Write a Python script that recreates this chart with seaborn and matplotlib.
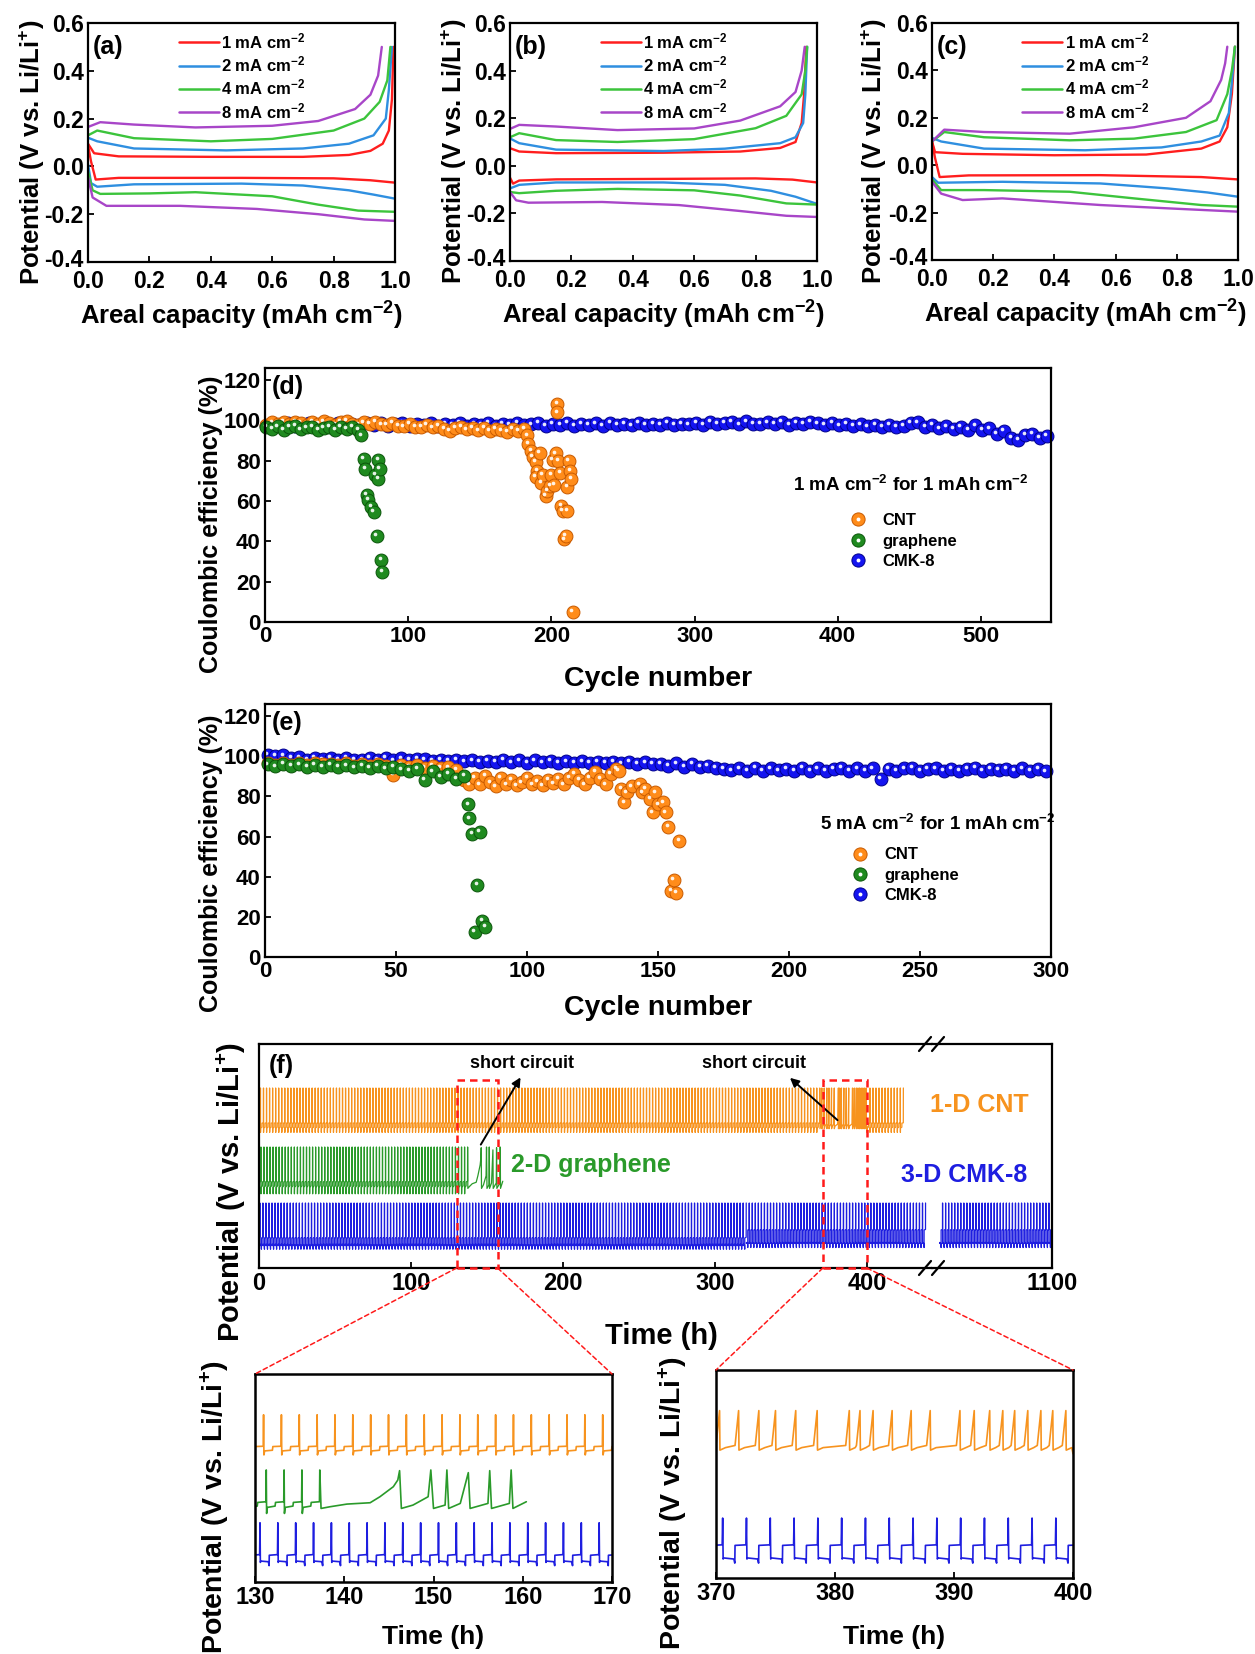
import numpy as np
import pandas as pd
import seaborn as sns
import matplotlib.pyplot as plt
from matplotlib.lines import Line2D
from matplotlib.patches import Rectangle, ConnectionPatch
from matplotlib.legend_handler import HandlerTuple
from matplotlib import transforms

# ---------------- (a)-(c) voltage profiles: capacity (mAh cm-2), potential (V) ----------------
CURRENTS = ["1", "2", "4", "8"]
CURRENT_COLORS = ["#ff1e1e", "#2f8fe0", "#3cc43c", "#a846c8"]

A_CHARGE = {
    "1": ([0.00, 0.02, 0.10, 0.40, 0.70, 0.85, 0.92, 0.96, 0.98, 0.99, 0.995],
          [0.095, 0.055, 0.042, 0.040, 0.040, 0.048, 0.065, 0.095, 0.15, 0.28, 0.50]),
    "2": ([0.00, 0.03, 0.15, 0.45, 0.70, 0.85, 0.93, 0.97, 0.98, 0.99],
          [0.12, 0.105, 0.075, 0.067, 0.075, 0.095, 0.13, 0.20, 0.32, 0.50]),
    "4": ([0.00, 0.03, 0.15, 0.40, 0.60, 0.80, 0.90, 0.95, 0.975, 0.985],
          [0.13, 0.15, 0.118, 0.105, 0.115, 0.15, 0.20, 0.27, 0.36, 0.50]),
    "8": ([0.00, 0.04, 0.15, 0.35, 0.60, 0.75, 0.87, 0.92, 0.945, 0.957],
          [0.165, 0.185, 0.175, 0.163, 0.17, 0.19, 0.24, 0.30, 0.38, 0.50]),
}
A_DISCHARGE = {
    "1": ([0.00, 0.01, 0.025, 0.10, 0.50, 0.80, 0.92, 1.00],
          [0.09, 0.02, -0.055, -0.048, -0.048, -0.05, -0.058, -0.068]),
    "2": ([0.00, 0.01, 0.03, 0.15, 0.50, 0.70, 0.85, 0.93, 1.00],
          [0.01, -0.07, -0.085, -0.075, -0.072, -0.08, -0.10, -0.118, -0.135]),
    "4": ([0.00, 0.015, 0.04, 0.20, 0.35, 0.60, 0.75, 0.88, 1.00],
          [-0.02, -0.10, -0.115, -0.113, -0.108, -0.125, -0.16, -0.185, -0.19]),
    "8": ([0.00, 0.015, 0.06, 0.30, 0.55, 0.75, 0.90, 1.00],
          [-0.045, -0.13, -0.165, -0.165, -0.178, -0.20, -0.222, -0.228]),
}
B_CHARGE = {
    "1": ([0.00, 0.03, 0.15, 0.50, 0.75, 0.88, 0.93, 0.95, 0.958, 0.965],
          [0.074, 0.06, 0.053, 0.055, 0.06, 0.075, 0.10, 0.18, 0.30, 0.50]),
    "2": ([0.00, 0.03, 0.15, 0.50, 0.70, 0.88, 0.93, 0.955, 0.962, 0.968],
          [0.115, 0.095, 0.068, 0.062, 0.072, 0.095, 0.12, 0.18, 0.30, 0.50]),
    "4": ([0.00, 0.03, 0.15, 0.35, 0.60, 0.80, 0.90, 0.95, 0.962, 0.968],
          [0.12, 0.137, 0.108, 0.100, 0.112, 0.158, 0.21, 0.30, 0.40, 0.50]),
    "8": ([0.00, 0.03, 0.15, 0.35, 0.60, 0.75, 0.88, 0.93, 0.95, 0.96],
          [0.155, 0.172, 0.165, 0.150, 0.157, 0.19, 0.25, 0.31, 0.40, 0.50]),
}
B_DISCHARGE = {
    "1": ([0.00, 0.01, 0.03, 0.15, 0.50, 0.80, 0.92, 1.00],
          [-0.05, -0.075, -0.062, -0.057, -0.055, -0.053, -0.058, -0.07]),
    "2": ([0.00, 0.03, 0.15, 0.50, 0.70, 0.85, 0.93, 1.00],
          [-0.095, -0.08, -0.07, -0.07, -0.08, -0.105, -0.13, -0.16]),
    "4": ([0.00, 0.03, 0.15, 0.35, 0.60, 0.75, 0.90, 1.00],
          [-0.11, -0.115, -0.105, -0.097, -0.103, -0.125, -0.158, -0.163]),
    "8": ([0.00, 0.02, 0.06, 0.30, 0.55, 0.75, 0.90, 1.00],
          [-0.11, -0.145, -0.155, -0.152, -0.165, -0.19, -0.21, -0.215]),
}
C_CHARGE = {
    "1": ([0.00, 0.01, 0.10, 0.40, 0.70, 0.88, 0.94, 0.965, 0.98, 0.99],
          [0.10, 0.055, 0.048, 0.042, 0.045, 0.07, 0.10, 0.16, 0.30, 0.50]),
    "2": ([0.00, 0.03, 0.17, 0.50, 0.75, 0.88, 0.94, 0.97, 0.98, 0.99],
          [0.115, 0.10, 0.07, 0.063, 0.075, 0.10, 0.125, 0.22, 0.35, 0.50]),
    "4": ([0.00, 0.04, 0.17, 0.45, 0.66, 0.83, 0.93, 0.965, 0.98, 0.99],
          [0.10, 0.14, 0.118, 0.105, 0.112, 0.14, 0.19, 0.30, 0.40, 0.50]),
    "8": ([0.00, 0.04, 0.17, 0.45, 0.66, 0.83, 0.91, 0.945, 0.958, 0.965],
          [0.10, 0.15, 0.14, 0.133, 0.16, 0.20, 0.27, 0.36, 0.43, 0.50]),
}
C_DISCHARGE = {
    "1": ([0.00, 0.01, 0.025, 0.12, 0.55, 0.88, 1.00],
          [0.10, 0.03, -0.05, -0.043, -0.042, -0.05, -0.06]),
    "2": ([0.00, 0.02, 0.23, 0.55, 0.77, 0.90, 1.00],
          [-0.05, -0.074, -0.07, -0.077, -0.098, -0.115, -0.133]),
    "4": ([0.00, 0.03, 0.17, 0.45, 0.66, 0.88, 1.00],
          [-0.06, -0.105, -0.105, -0.112, -0.14, -0.168, -0.175]),
    "8": ([0.00, 0.03, 0.10, 0.23, 0.55, 0.77, 1.00],
          [-0.07, -0.12, -0.147, -0.14, -0.168, -0.182, -0.196]),
}

# ---------------- (d) CE at 1 mA cm-2 ----------------
D_CNT_CYCLE = np.arange(1, 182, 4)
D_CNT_CE = [97.8, 99.0, 98.4, 99.4, 98.0, 99.2, 98.6, 97.9, 99.3, 98.2, 99.5, 98.5, 97.9, 99.1,
            99.6, 98.3, 97.8, 99.0, 98.2, 99.3, 98.0, 97.6, 98.6, 97.4, 97.0, 98.2, 96.9, 96.6,
            97.8, 96.5, 97.2, 95.6, 94.8, 96.3, 96.9, 95.5, 96.2, 95.0, 96.1, 94.8, 95.7, 95.0,
            94.4, 95.8, 94.6, 95.9]
D_CNT_DROP_CYCLE = [183, 184, 186, 187, 189, 190, 189, 192, 193, 194, 196, 197, 199, 200, 201, 202,
                    203, 204, 204, 205, 206, 207, 208, 209, 210, 211, 211, 212, 213, 214, 215]
D_CNT_DROP_CE = [92.6, 88.5, 85, 82, 79.5, 75, 72, 84, 69, 73, 62.5, 65, 67.5, 73, 80.3, 68,
                 83.6, 108, 104, 80, 74, 57.6, 55, 41, 42.6, 67, 55, 80, 75, 71, 5]
D_GR_CYCLE = np.arange(1, 66, 4)
D_GR_CE = [96.8, 95.6, 97.0, 95.4, 96.6, 97.1, 95.5, 96.5, 96.9, 95.3, 96.3, 96.7, 95.4, 96.6,
           95.6, 96.8, 95.2]
D_GR_DROP_CYCLE = [67, 69, 70, 71, 72, 74, 76, 77, 78, 79, 79, 80, 81, 82]
D_GR_DROP_CE = [92.6, 81, 76, 63, 60.5, 57, 54.6, 73, 42.6, 80.3, 71, 76, 31, 25]
D_CMK_CYCLE = np.arange(1, 547, 5)
D_CMK_CE = [97.2, 98.4, 97.6, 98.8, 97.4, 98.1, 98.9, 97.3, 98.2, 97.8,
            98.6, 97.1, 98.3, 97.9, 98.7, 97.5, 98.5, 97.2, 98.0, 98.8,
            97.4, 98.3, 97.7, 98.9, 97.3, 98.1, 97.6, 98.6, 97.2, 98.4,
            97.9, 98.7, 97.3, 98.2, 97.6, 98.8, 97.5, 98.0, 98.6, 97.4,
            98.3, 97.7, 98.9, 97.2, 98.1, 97.8, 98.5, 97.4, 98.7, 97.9,
            98.2, 97.5, 98.6, 97.8, 98.3, 97.6, 98.9, 97.7, 98.4, 98.0,
            98.8, 97.9, 99.1, 98.2, 98.9, 99.3, 98.0, 99.5, 98.4, 98.1,
            99.0, 98.3, 99.2, 97.9, 98.8, 98.2, 99.1, 98.5, 97.8, 98.6,
            97.5, 98.3, 97.2, 98.0, 97.0, 97.8, 96.8, 97.6, 96.9, 97.4, 98.6, 99.0, 96.8, 97.6,
            96.0, 97.0, 95.6, 96.8, 95.4, 97.5, 95.2, 96.0,
            93.5, 94.6, 91.2, 90.5, 92.8, 93.4, 91.5, 92.4]

# ---------------- (e) CE at 5 mA cm-2 ----------------
E_CNT_CYCLE = np.arange(1, 76, 3)
E_CNT_CE = [96.6, 95.7, 96.8, 95.8, 96.4, 95.6, 96.5, 95.9, 96.2, 95.4, 96.4, 95.3, 96.1, 95.2,
            96.0, 95.1, 90.8, 95.6, 94.6, 95.4, 94.3, 95.0, 94.0, 94.4, 93.3]
E_CNT_DROP_CYCLE = [76, 78, 80, 82, 84, 86, 88, 90, 92, 94, 96, 98, 100, 102, 104, 106, 108, 110,
                    112, 114, 116, 118, 120, 122, 124, 126, 128, 130, 132, 134, 135, 136, 137, 138,
                    140, 143, 144, 145, 147, 148, 149, 150, 152, 153, 154, 155, 156, 157, 158]
E_CNT_DROP_CE = [88, 86, 89, 86, 90, 87, 85, 89, 86, 88, 85.5, 87, 89, 86, 87.5, 85.5, 88, 86.5,
                 88.5, 86, 89, 91, 88, 86, 89, 92, 88.5, 86, 91, 93.5, 92.5, 83.6, 77, 82,
                 85, 86, 82, 83.6, 78.7, 72, 82, 76, 77, 72, 64.6, 33, 38.5, 32, 58]
E_GR_CYCLE = np.arange(1, 76, 3)
E_GR_CE = [95.9, 94.9, 96.1, 95.0, 95.9, 94.8, 95.8, 94.7, 95.6, 94.5, 95.4, 94.4, 95.3, 94.2,
           95.1, 93.9, 94.7, 93.4, 92.6, 93.8, 88.2, 92.4, 89.8, 91.0, 88.6]
E_GR_DROP_CYCLE = [76, 77.5, 78, 79, 82, 81, 80, 83, 84]
E_GR_DROP_CE = [90, 76, 69, 61.5, 62.3, 36, 12.3, 18, 14.8]
E_CMK_CYCLE = np.arange(1, 299, 3)
E_CMK_CE = [100.8, 100.0, 100.4, 99.3,
            99.4, 98.2, 99.3, 98.4, 99.1, 98.0, 99.3, 98.3, 98.1, 99.2, 98.0, 99.0, 97.9, 98.9,
            98.1, 98.7,
            98.4, 97.6, 98.3, 97.5, 98.1, 97.4, 97.9, 97.2, 97.8, 97.1, 98.2, 96.9, 97.9, 96.8,
            97.9, 96.9, 97.6, 96.8, 97.4, 96.7, 97.4, 96.6, 97.3, 96.5, 97.2, 96.4, 97.1, 96.3,
            96.9, 96.0,
            96.3, 95.0, 96.4, 94.8, 96.1, 94.7, 95.3, 94.1,
            93.8, 92.9, 93.9, 92.8, 94.1, 92.7, 93.9, 92.9, 93.6, 92.8,
            94.0, 92.8, 93.9, 92.6, 93.8, 94.0, 92.5, 93.9, 92.8, 93.9,
            88.8, 93.8, 92.6, 93.9, 94.0, 92.7, 93.6, 93.9, 92.8, 93.6,
            92.8, 93.8, 94.0, 92.6, 93.8, 93.0, 93.7, 92.8, 93.9, 92.6,
            93.7, 92.4]

# ---------------- (f) galvanostatic cycling, one 2 h cycle shape (spike height = 1) ----------------
CNT_T = [0.00, 0.08, 0.95, 1.00, 1.92, 1.96]
CNT_V = [-0.20, -0.08, -0.06, 0.05, 0.06, 1.00]
CNT_SHORT_SPIKES = [370.3, 371.9, 373.6, 375.0, 376.7, 378.5, 381.2, 382.1, 383.2, 384.8, 386.4,
                    388.0, 390.5, 391.7, 393.0, 394.1, 395.1, 396.2, 397.3, 398.3, 399.4]
CNT_SHORT_LEVELS = [-0.10, -0.03, 0.03]
GR_T = [0.00, 0.08, 0.95, 1.00, 1.92, 1.96]
GR_V = [-0.30, -0.12, -0.08, 0.03, 0.05, 1.00]
GR_SOFT_T = [137.4, 138.4, 140.3, 142.9, 144.0, 145.5, 146.0, 146.2, 146.4, 147.7, 149.4, 149.7,
             150.0, 151.3, 151.5, 151.7, 153.0, 153.9, 154.1, 156.1, 156.3, 156.5, 158.5, 158.7,
             158.9, 160.4]
GR_SOFT_V = [-0.15, -0.10, -0.02, 0.02, 0.20, 0.50, 0.70, 0.98, -0.15, -0.05, 0.20, 1.00,
             -0.15, -0.05, 1.00, -0.15, 0.00, 0.92, -0.15, 0.00, 0.98, -0.15, 0.00, 1.00,
             -0.15, 0.05]
CMK_T = [0.00, 0.05, 0.90, 0.98, 1.00, 1.92, 1.96]
CMK_V_EARLY = [-0.22, -0.18, -0.20, -0.32, 0.00, 0.02, 1.00]
CMK_V_LATE = [-0.50, -0.46, -0.50, -0.65, 0.00, 0.02, 1.00]
# trace level / spike height in each plot (arbitrary offset units)
F_MAIN = {"CNT": (143, 37), "GR": (85, 36), "CMK_early": (30, 35), "CMK_late": (38, 27)}
F_INSET1 = {"CNT": (400, 100), "GR": (235, 100), "CMK_early": (80, 97)}
F_INSET2 = {"CNT": (395, 108), "CMK_late": (98, 82)}

C_ORANGE, C_GREEN, C_BLUE = "#f7931e", "#2a9a2a", "#1e1ee0"
B_ORANGE, B_GREEN, B_BLUE = "#ff8c1a", "#1f8a1f", "#1414f0"
E_ORANGE, E_GREEN, E_BLUE = "#c85a00", "#0a560a", "#00008c"

# ---------------- style ----------------
sns.set_theme(style="ticks")
plt.rcParams["font.family"] = ["Liberation Sans", "DejaVu Sans"]
plt.rcParams.update({
    "font.weight": "bold", "axes.labelweight": "bold", "mathtext.default": "regular",
    "axes.unicode_minus": False, "axes.edgecolor": "black", "xtick.color": "black",
    "ytick.color": "black", "text.color": "black", "axes.labelcolor": "black",
})

W, H = 1255, 1654
fig = plt.figure(figsize=(W / 100, H / 100), dpi=100)


def px_axes(left, top, right, bottom):
    return fig.add_axes([left / W, 1 - bottom / H, (right - left) / W, (bottom - top) / H])


def frame(ax, lw=1.6, size=14):
    for s in ax.spines.values():
        s.set_linewidth(lw)
        s.set_color("black")
    ax.tick_params(direction="in", length=4, width=1.3, labelsize=size, pad=3)


# ---------------- (a)-(c) ----------------
def profile_panel(ax, charge, discharge, tag, ylab_x):
    rows = []
    for cur in CURRENTS:
        for branch, src in (("charge", charge), ("discharge", discharge)):
            xs, ys = src[cur]
            rows += [(x, y, cur, branch) for x, y in zip(xs, ys)]
    df = pd.DataFrame(rows, columns=["cap", "pot", "current", "branch"])
    sns.lineplot(data=df, x="cap", y="pot", hue="current", hue_order=CURRENTS, units="branch",
                 estimator=None, sort=False, palette=CURRENT_COLORS, lw=1.7, legend=False, ax=ax)
    ax.set_xlim(0, 1.0)
    ax.set_ylim(-0.4, 0.6)
    ax.set_xticks(np.arange(0, 1.01, 0.2))
    ax.set_yticks(np.arange(-0.4, 0.61, 0.2))
    ax.xaxis.set_major_formatter(plt.FormatStrFormatter("%.1f"))
    ax.yaxis.set_major_formatter(plt.FormatStrFormatter("%.1f"))
    frame(ax, size=16.5)
    ax.tick_params(axis="x", pad=6)
    # lift the lowest y label a little so it clears the "0.0" under the corner
    lowest = ax.get_yticklabels()[0]
    lowest.set_transform(lowest.get_transform()
                         + transforms.ScaledTranslation(0, 3 / 72, fig.dpi_scale_trans))
    ax.set_xlabel("Areal capacity (mAh cm$^{-2}$)", fontsize=18.5)
    ax.set_ylabel("Potential (V vs. Li/Li$^{+}$)", fontsize=18.5)
    ax.xaxis.set_label_coords(0.5, -0.16)
    ax.yaxis.set_label_coords(ylab_x, 0.46)
    ax.text(0.016, 0.90, tag, transform=ax.transAxes, fontsize=18, va="center")
    handles = [Line2D([], [], color=c, lw=1.8) for c in CURRENT_COLORS]
    labels = [f"{c} mA cm$^{{-2}}$" for c in CURRENTS]
    ax.legend(handles, labels, loc="upper left", bbox_to_anchor=(0.268, 1.0), frameon=False,
              borderpad=0, handlelength=2.4, handletextpad=0.15, labelspacing=0.2, fontsize=12)


profile_panel(px_axes(88, 23, 395, 262), A_CHARGE, A_DISCHARGE, "(a)", -0.135)
profile_panel(px_axes(510, 23, 817, 261), B_CHARGE, B_DISCHARGE, "(b)", -0.135)
profile_panel(px_axes(932, 23, 1238, 260), C_CHARGE, C_DISCHARGE, "(c)", -0.142)


# ---------------- (d) and (e) ----------------
def balls(ax, x, y, color, edge):
    sns.scatterplot(x=np.asarray(x, float), y=np.asarray(y, float), s=86, color=color,
                    edgecolor=edge, linewidth=0.7, legend=False, ax=ax, clip_on=False)
    shine = transforms.offset_copy(ax.transData, fig=fig, x=-1.0, y=1.3, units="points")
    ax.scatter(x, y, s=7, color="white", alpha=0.9, linewidths=0, transform=shine, clip_on=False)


def ball_handle(color, edge):
    return (Line2D([], [], ls="", marker="o", ms=9.5, mfc=color, mec=edge, mew=0.7),
            Line2D([], [], ls="", marker="o", ms=2.8, mfc="white", mec="none"))


def ce_panel(ax, tag, xmax, xstep, title, title_xy, leg_xy, xlab_y, ylab_y):
    ax.set_xlim(0, xmax)
    ax.set_ylim(0, 126)
    ax.set_xticks(np.arange(0, xmax + 1, xstep))
    ax.set_yticks(np.arange(0, 121, 20))
    frame(ax, size=16)
    ax.set_xlabel("Cycle number", fontsize=20.5)
    ax.set_ylabel("Coulombic efficiency (%)", fontsize=18)
    ax.xaxis.set_label_coords(0.5, xlab_y)
    ax.yaxis.set_label_coords(-0.053, ylab_y)
    ax.text(0.009, 0.925, tag, transform=ax.transAxes, fontsize=18, va="center")
    fig.text(title_xy[0] / W, 1 - title_xy[1] / H, title, fontsize=13.5, va="center")
    handles = [ball_handle(B_ORANGE, E_ORANGE), ball_handle(B_GREEN, E_GREEN),
               ball_handle(B_BLUE, E_BLUE)]
    ax.legend(handles, ["CNT", "graphene", "CMK-8"], handler_map={tuple: HandlerTuple(ndivide=1)},
              loc="upper left", bbox_to_anchor=(leg_xy[0] / W, 1 - leg_xy[1] / H),
              bbox_transform=fig.transFigure, frameon=False, borderpad=0, handlelength=1.0,
              handletextpad=1.0, labelspacing=0.32, fontsize=12)


ax_d = px_axes(265, 368, 1051, 622)
balls(ax_d, D_CMK_CYCLE, D_CMK_CE, B_BLUE, E_BLUE)
balls(ax_d, np.r_[D_CNT_CYCLE, D_CNT_DROP_CYCLE], np.r_[D_CNT_CE, D_CNT_DROP_CE], B_ORANGE, E_ORANGE)
balls(ax_d, np.r_[D_GR_CYCLE, D_GR_DROP_CYCLE], np.r_[D_GR_CE, D_GR_DROP_CE], B_GREEN, E_GREEN)
ce_panel(ax_d, "(d)", 549, 100, "1 mA cm$^{-2}$ for 1 mAh cm$^{-2}$", (793, 485), (841, 505),
         -0.175, 0.386)

ax_e = px_axes(265, 704, 1051, 957)
balls(ax_e, E_CMK_CYCLE, E_CMK_CE, B_BLUE, E_BLUE)
balls(ax_e, np.r_[E_CNT_CYCLE, E_CNT_DROP_CYCLE], np.r_[E_CNT_CE, E_CNT_DROP_CE], B_ORANGE, E_ORANGE)
balls(ax_e, np.r_[E_GR_CYCLE, E_GR_DROP_CYCLE], np.r_[E_GR_CE, E_GR_DROP_CE], B_GREEN, E_GREEN)
ce_panel(ax_e, "(e)", 300, 50, "5 mA cm$^{-2}$ for 1 mAh cm$^{-2}$", (820, 824), (843, 839),
         -0.15, 0.37)


# ---------------- (f) ----------------
def tile(starts, tmpl_t, tmpl_v):
    starts = np.asarray(starts, float)
    t = (starts[:, None] + np.asarray(tmpl_t)[None, :]).ravel()
    return t, np.tile(np.asarray(tmpl_v, float), len(starts))


def short_trace(spikes, levels):
    dip, mid, pre = levels
    t = [spikes[0] - 1.2, spikes[0] - 0.3]
    v = [dip, pre]
    for a, b in zip(spikes[:-1], spikes[1:]):
        t += [a, a + 0.03, a + 0.5, b - 0.3]
        v += [1.0, dip, mid, pre]
    t += [spikes[-1], spikes[-1] + 0.03, spikes[-1] + 0.5]
    v += [1.0, dip, mid]
    return np.array(t), np.array(v)


parts = [tile(np.arange(-1, 368, 2), CNT_T, CNT_V), short_trace(CNT_SHORT_SPIKES, CNT_SHORT_LEVELS),
         tile(np.arange(400, 423, 2), CNT_T, CNT_V)]
cnt_t = np.concatenate([p[0] for p in parts])
cnt_v = np.concatenate([p[1] for p in parts])
gr_reg = tile(np.arange(-0.7, 136, 2), GR_T, GR_V)
gr_t = np.r_[gr_reg[0], GR_SOFT_T]
gr_v = np.r_[gr_reg[1], GR_SOFT_V]
cmk_early_t, cmk_early_v = tile(np.arange(-1.4, 320, 2), CMK_T, CMK_V_EARLY)
cmk_late_t, cmk_late_v = tile(np.arange(320.6, 437, 2), CMK_T, CMK_V_LATE)
cmk_right_t, cmk_right_v = tile(np.arange(1026, 1099, 2), CMK_T, CMK_V_LATE)


def trace(ax, t, v, level, color, lw):
    base, amp = level
    sns.lineplot(x=t, y=base + amp * np.asarray(v), sort=False, estimator=None, color=color, lw=lw,
                 ax=ax)


ax_f = px_axes(259, 1044, 932, 1268)
ax_fr = px_axes(932, 1044, 1052, 1268)
trace(ax_f, cnt_t, cnt_v, F_MAIN["CNT"], C_ORANGE, 0.9)
trace(ax_f, gr_t, gr_v, F_MAIN["GR"], C_GREEN, 0.9)
trace(ax_f, cmk_early_t, cmk_early_v, F_MAIN["CMK_early"], C_BLUE, 0.9)
trace(ax_f, cmk_late_t, cmk_late_v, F_MAIN["CMK_late"], C_BLUE, 0.9)
trace(ax_fr, cmk_right_t, cmk_right_v, F_MAIN["CMK_late"], C_BLUE, 0.9)

for ax in (ax_f, ax_fr):
    ax.set_ylim(0, 224)
    ax.set_yticks([])
    ax.set_ylabel("")
    frame(ax, size=17)
ax_f.set_xlim(0, 442.8)
ax_f.set_xticks([0, 100, 200, 300, 400])
ax_f.spines["right"].set_visible(False)
ax_fr.set_xlim(1021, 1100)
ax_fr.set_xticks([1100])
ax_fr.spines["left"].set_visible(False)
ax_f.set_ylabel("Potential (V vs. Li/Li$^{+}$)", fontsize=21)
ax_f.yaxis.set_label_coords(-0.016, 0.34)
fig.text(661 / W, 1 - 1336 / H, "Time (h)", fontsize=21, ha="center", va="center")
ax_f.text(0.015, 0.90, "(f)", transform=ax_f.transAxes, fontsize=18, va="center")

for y in (1044, 1268):
    for dx in (-7, 6):
        fig.add_artist(Line2D([(932 + dx - 6) / W, (932 + dx + 6) / W],
                              [1 - (y + 7) / H, 1 - (y - 7) / H], color="black", lw=1.6))

ax_f.text(173, 205, "short circuit", fontsize=13, ha="center", va="center")
ax_f.annotate("", xy=(173, 193), xytext=(145, 121),
              arrowprops=dict(arrowstyle="-|>", color="black", lw=1.4, mutation_scale=13))
ax_f.text(326, 205, "short circuit", fontsize=13, ha="center", va="center")
ax_f.annotate("", xy=(348, 192), xytext=(382, 146),
              arrowprops=dict(arrowstyle="-|>", color="black", lw=1.4, mutation_scale=13))
ax_f.text(166, 103, "2-D graphene", fontsize=18, color=C_GREEN, ha="left", va="center")
fig.text(979 / W, 1 - 1105 / H, "1-D CNT", fontsize=18, color=C_ORANGE, ha="center", va="center")
fig.text(964 / W, 1 - 1175 / H, "3-D CMK-8", fontsize=18, color=C_BLUE, ha="center", va="center")

for x0, x1 in ((130, 157), (371, 400)):
    ax_f.add_patch(Rectangle((x0, 0), x1 - x0, 188, fill=False, ec="#ff1a1a", ls=(0, (3, 2)),
                             lw=1.8, clip_on=False, zorder=5))

# ---------------- insets ----------------
ax_i1 = px_axes(255, 1374, 612, 1582)
trace(ax_i1, cnt_t, cnt_v, F_INSET1["CNT"], C_ORANGE, 1.2)
trace(ax_i1, gr_t, gr_v, F_INSET1["GR"], C_GREEN, 1.2)
trace(ax_i1, cmk_early_t, cmk_early_v, F_INSET1["CMK_early"], C_BLUE, 1.2)
ax_i1.set_xlim(130, 170)
ax_i1.set_ylim(0, 622)
ax_i1.set_xticks([130, 140, 150, 160, 170])

ax_i2 = px_axes(716, 1370, 1073, 1578)
trace(ax_i2, cnt_t, cnt_v, F_INSET2["CNT"], C_ORANGE, 1.2)
trace(ax_i2, cmk_late_t, cmk_late_v, F_INSET2["CMK_late"], C_BLUE, 1.2)
ax_i2.set_xlim(370, 400)
ax_i2.set_ylim(0, 625)
ax_i2.set_xticks([370, 380, 390, 400])

for ax, lx, ly in ((ax_i1, -0.065, -0.207), (ax_i2, -0.072, -0.226)):
    frame(ax, lw=1.8, size=17)
    ax.set_yticks([])
    ax.set_xlabel("Time (h)", fontsize=19)
    ax.set_ylabel("Potential (V vs. Li/Li$^{+}$)", fontsize=20.5)
    ax.xaxis.set_label_coords(0.5, ly)
    ax.yaxis.set_label_coords(lx, 0.36)

for (xa, xb), inset in (((130, 157), ax_i1), ((371, 400), ax_i2)):
    for xf, corner in ((xa, (0, 1)), (xb, (1, 1))):
        con = ConnectionPatch(xyA=(xf, 0), coordsA=ax_f.transData, xyB=corner,
                              coordsB=inset.transAxes, color="#ff1a1a", ls=(0, (3, 2)), lw=1.1)
        fig.add_artist(con)

fig.savefig("out.png", dpi=100)
